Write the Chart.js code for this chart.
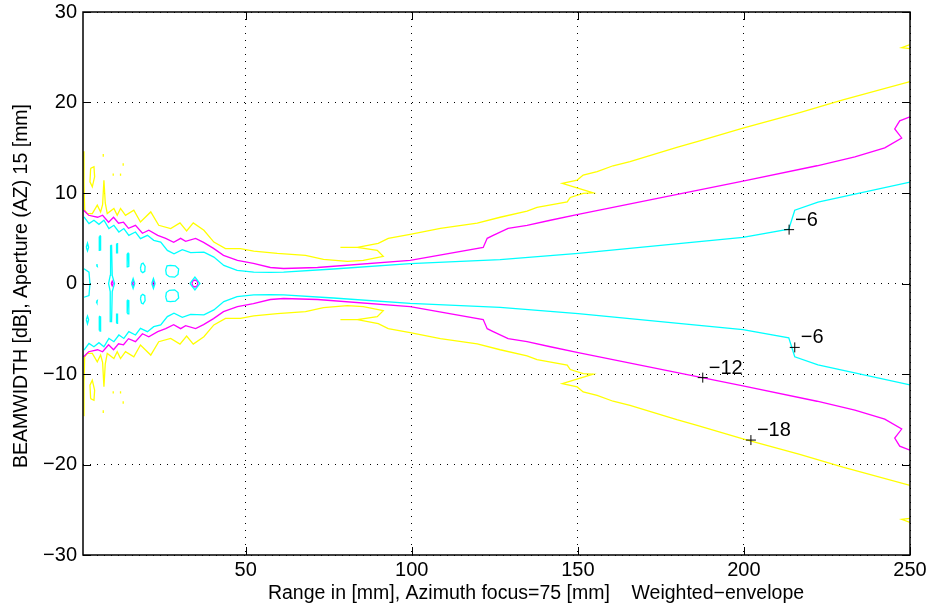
<!DOCTYPE html>
<html>
<head>
<meta charset="utf-8">
<script src="https://cdn.jsdelivr.net/npm/chart.js@4.4.1/dist/chart.umd.min.js"></script>
<style>
  html, body { margin: 0; padding: 0; background: #fff; }
</style>
</head>
<body>
<canvas id="beamChart" width="936" height="609"></canvas>
<script>
// tick values
const xTicks = [50, 100, 150, 200, 250]
const yTicks = [-30, -20, -10, 0, 10, 20, 30]
const xTitle = 'Range in [mm], Azimuth focus=75 [mm]    Weighted−envelope'
const yTitle = 'BEAMWIDTH [dB], Aperture (AZ) 15 [mm]'

// -6 dB contour (cyan)
const cyanX = [1.3, 2.8, 4.3, 5.8, 7.3, 8.8, 10.3, 11.8, 13.3, 14.8, 16.8, 18.3, 20.4, 22.3, 24.4, 26.4, 28.4, 30.9, 33.4, 37.4, 40.4, 43.4, 47.4, 52.4, 57.4, 61.4, 76.4, 99.5, 126.6, 150.1, 199.7, 213.5, 215.3, 222.3, 250]
const cyanUpperY = [7.35, 6.62, 6.99, 6.54, 6.99, 6.07, 6.43, 5.69, 6.07, 5.32, 5.69, 4.96, 5.32, 4.77, 4.58, 3.66, 3.29, 3.74, 3.41, 3.47, 2.92, 2.0, 1.44, 1.25, 1.22, 1.25, 1.6, 2.19, 2.63, 3.33, 5.1, 6.0, 8.1, 8.98, 11.2]
const cyanLowerY = [-7.35, -6.62, -6.99, -6.54, -6.99, -6.07, -6.43, -5.69, -6.07, -5.32, -5.69, -4.96, -5.32, -4.77, -4.58, -3.66, -3.29, -3.74, -3.41, -3.47, -2.92, -2.0, -1.44, -1.25, -1.22, -1.25, -1.6, -2.19, -2.63, -3.33, -5.1, -6.0, -8.1, -8.98, -11.2]

// -12 dB contour (magenta)
const magentaX = [1.2, 2.7, 5.4, 6.9, 8.7, 10.2, 11.7, 13.2, 14.7, 16.8, 18.9, 20.8, 23.5, 25.9, 28.3, 30.4, 31.9, 34.9, 37.3, 40.3, 43.3, 47.5, 52.3, 57.4, 61.4, 71.6, 99.5, 121.5, 122.7, 124.5, 129.0, 134.7, 141.7, 150.1, 199.7, 222.0, 233.4, 242.4, 247.5, 245.4, 246.9, 250]
const magentaUpperY = [8.1, 7.54, 7.32, 7.54, 6.77, 7.32, 6.66, 6.77, 6.1, 6.43, 5.55, 5.88, 5.32, 4.99, 4.55, 4.99, 4.66, 4.99, 4.55, 3.88, 3.11, 2.55, 2.22, 1.77, 1.66, 1.77, 2.55, 3.99, 4.99, 5.32, 6.1, 6.43, 6.99, 7.65, 11.31, 13.01, 13.98, 14.98, 16.08, 17.08, 17.97, 18.41]
const magentaLowerY = [-8.1, -7.54, -7.32, -7.54, -6.77, -7.32, -6.66, -6.77, -6.1, -6.43, -5.55, -5.88, -5.32, -4.99, -4.55, -4.99, -4.66, -4.99, -4.55, -3.88, -3.11, -2.55, -2.22, -1.77, -1.66, -1.77, -2.55, -3.99, -4.99, -5.32, -6.1, -6.43, -6.99, -7.65, -11.31, -13.01, -13.98, -14.98, -16.08, -17.08, -17.97, -18.41]

// -18 dB contour (yellow)
const yellowX = [1.2, 1.3, 1.5, 2.3, 3.8, 5.3, 6.3, 6.9, 7.3, 7.7, 8.3, 10.3, 11.3, 12.3, 13.8, 16.3, 18.3, 21.4, 23.8, 27.4, 30.2, 32.2, 34.2, 37.4, 40.4, 43.9, 48.4, 52.4, 59.5, 68.0, 73.4, 80.6, 85.4, 91.4, 89.6, 83.6, 78.5, 83.6, 89.9, 92.9, 99.5, 108.6, 119.7, 126.6, 134.7, 137.7, 146.8, 147.7, 151.6, 154.6, 145.3, 149.8, 151.6, 155.8, 160.6, 165.7, 179.8, 185.9, 199.7, 216.8, 229.8, 250]
const yellowUpperY = [14.6, 11.0, 8.1, 7.73, 7.73, 8.65, 7.91, 8.7, 11.4, 8.9, 7.73, 8.29, 7.54, 8.29, 7.54, 8.1, 6.8, 7.91, 6.43, 6.07, 6.69, 5.8, 6.69, 5.88, 4.58, 3.85, 3.85, 3.58, 3.33, 3.11, 2.66, 2.44, 2.55, 3.0, 3.66, 3.99, 3.99, 3.99, 4.44, 4.99, 5.44, 6.1, 6.66, 7.32, 7.99, 8.4, 9.02, 9.51, 9.95, 10.02, 11.06, 11.43, 11.98, 12.35, 13.01, 13.46, 15.05, 15.67, 17.16, 18.89, 20.3, 22.3]
const yellowLowerY = [-14.6, -11.0, -8.1, -7.73, -7.73, -8.65, -7.91, -8.7, -11.4, -8.9, -7.73, -8.29, -7.54, -8.29, -7.54, -8.1, -6.8, -7.91, -6.43, -6.07, -6.69, -5.8, -6.69, -5.88, -4.58, -3.85, -3.85, -3.58, -3.33, -3.11, -2.66, -2.44, -2.55, -3.0, -3.66, -3.99, -3.99, -3.99, -4.44, -4.99, -5.44, -6.1, -6.66, -7.32, -7.99, -8.4, -9.02, -9.51, -9.95, -10.02, -11.06, -11.43, -11.98, -12.35, -13.01, -13.46, -15.05, -15.67, -17.16, -18.89, -20.3, -22.3]

// small closed pieces of the -6 contour near the aperture
const cyanIslands = [
	[[1.3, 1.63], [2.8, 1.25], [3.1, 0], [2.8, -1.33], [1.3, -1.52]],
	[[2.0, 4.0], [2.35, 4.45], [2.7, 4.0], [2.35, 3.6], [2.0, 4.0]],
	[[2.0, -4.0], [2.35, -4.45], [2.7, -4.0], [2.35, -3.6], [2.0, -4.0]],
	[[5.0, 2.0], [5.2, 2.15], [5.3, 1.9], [5.0, 2.0]],
	[[5.0, -2.0], [5.2, -2.15], [5.3, -1.9], [5.0, -2.0]],
	[[5.9, 5.2], [6.2, 5.25], [6.3, 3.7], [6.0, 3.65], [5.9, 5.2]],
	[[5.9, -5.2], [6.2, -5.25], [6.3, -3.7], [6.0, -3.65], [5.9, -5.2]],
	[[9.3, 4.22], [9.6, 4.22], [9.8, 0.9], [10.5, 0], [9.8, -0.9], [9.6, -4.22], [9.3, -4.22], [9.2, -0.9], [8.7, 0], [9.2, 0.9], [9.3, 4.22]],
	[[11.1, 4.4], [11.4, 4.4], [11.4, 3.4], [11.1, 3.4], [11.1, 4.4]],
	[[11.1, -4.4], [11.4, -4.4], [11.4, -3.4], [11.1, -3.4], [11.1, -4.4]],
	[[14.3, 3.3], [14.6, 3.35], [14.8, 1.9], [14.5, 1.85], [14.3, 3.3]],
	[[14.3, -3.3], [14.6, -3.35], [14.8, -1.9], [14.5, -1.85], [14.3, -3.3]],
	[[15.6, 0], [16.1, 0.55], [16.6, 0], [16.1, -0.55], [15.6, 0]],
	[[18.3, 1.7], [18.6, 2.15], [19.1, 2.25], [19.7, 1.9], [19.6, 1.35], [19.0, 1.2], [18.5, 1.35], [18.3, 1.7]],
	[[18.3, -1.7], [18.6, -2.15], [19.1, -2.25], [19.7, -1.9], [19.6, -1.35], [19.0, -1.2], [18.5, -1.35], [18.3, -1.7]],
	[[21.7, 0], [22.2, 0.55], [22.7, 0], [22.2, -0.55], [21.7, 0]],
	[[25.9, 1.5], [26.3, 1.95], [27.3, 2.0], [28.8, 1.95], [29.8, 1.6], [29.6, 1.0], [28.6, 0.7], [27.0, 0.75], [26.1, 1.0], [25.9, 1.5]],
	[[25.9, -1.5], [26.3, -1.95], [27.3, -2.0], [28.8, -1.95], [29.8, -1.6], [29.6, -1.0], [28.6, -0.7], [27.0, -0.75], [26.1, -1.0], [25.9, -1.5]],
	[[33.2, 0], [34.7, 0.7], [36.2, 0], [34.7, -0.7], [33.2, 0]]
]

const magentaDots = [
	[[9.5, 0], [9.8, 0.25], [10.1, 0], [9.8, -0.25], [9.5, 0]],
	[[15.8, 0], [16.1, 0.25], [16.4, 0], [16.1, -0.25], [15.8, 0]],
	[[21.9, 0], [22.2, 0.25], [22.5, 0], [22.2, -0.25], [21.9, 0]],
	[[33.8, 0], [34.1, 0.3], [34.7, 0.38], [35.3, 0.3], [35.6, 0], [35.3, -0.3], [34.7, -0.38], [34.1, -0.3], [33.8, 0]]
]

const yellowBits = [
	[[3.3, 12.72], [4.3, 12.9], [4.5, 11.79], [3.8, 10.68], [3.1, 11.24], [3.3, 12.72]],
	[[3.3, -12.72], [4.3, -12.9], [4.5, -11.79], [3.8, -10.68], [3.1, -11.24], [3.3, -12.72]],
	[[7.1, 14.0], [7.1, 14.3]],
	[[13.1, 13.0], [13.1, 13.3]],
	[[10.1, 11.9], [10.1, 12.15]],
	[[12.3, 11.9], [12.3, 12.15]],
	[[7.1, -14.0], [7.1, -14.3]],
	[[13.1, -13.0], [13.1, -13.3]],
	[[10.1, -11.9], [10.1, -12.15]],
	[[12.3, -11.9], [12.3, -12.15]],
	[[250, 26.4], [247.5, 26.05], [250, 25.95]],
	[[250, -26.4], [247.5, -26.05], [250, -25.95]]
]

// contour labels
const labelX = [213.6, 215.3, 187.6, 202.1]
const labelY = [5.95, -7.06, -10.4, -17.3]
const labelText = ['−6', '−6', '−12', '−18']

const FONT = '"Liberation Sans", Arial, Helvetica, sans-serif'
Chart.defaults.font.family = FONT
Chart.defaults.color = '#000'

function xy(xs, ys) {
	return xs.map((x, i) => ({x: x, y: ys[i]}))
}
function pairs(arr) {
	return arr.map(p => ({x: p[0], y: p[1]}))
}
function contour(color, data) {
	return {data: data, borderColor: color, borderWidth: 1.3, showLine: true, pointRadius: 0, fill: false, tension: 0}
}

const datasets = [
	{
		data: xy(labelX, labelY),
		pointStyle: 'cross', pointRadius: 5, borderColor: '#000', borderWidth: 1,
		showLine: false
	},
	contour('#00ffff', xy(cyanX, cyanUpperY)),
	contour('#00ffff', xy(cyanX, cyanLowerY)),
	contour('#ff00ff', xy(magentaX, magentaUpperY)),
	contour('#ff00ff', xy(magentaX, magentaLowerY)),
	contour('#ffff00', xy(yellowX, yellowUpperY)),
	contour('#ffff00', xy(yellowX, yellowLowerY))
]
cyanIslands.forEach(p => datasets.push(contour('#00ffff', pairs(p))))
magentaDots.forEach(p => datasets.push(contour('#ff00ff', pairs(p))))
yellowBits.forEach(p => datasets.push(contour('#ffff00', pairs(p))))

function minusLabel(v) {
	return v < 0 ? '−' + Math.abs(v) : '' + v
}

// box, inward tick marks, contour labels and axis titles
const decorations = {
	id: 'decorations',
	afterDatasetsDraw(chart) {
		const {ctx, chartArea: a, scales: {x, y}} = chart
		ctx.save()
		ctx.strokeStyle = '#000'
		ctx.lineWidth = 1
		ctx.beginPath()
		xTicks.forEach(v => {
			const px = Math.round(x.getPixelForValue(v)) + 0.5
			ctx.moveTo(px, a.bottom); ctx.lineTo(px, a.bottom - 8)
			ctx.moveTo(px, a.top); ctx.lineTo(px, a.top + 8)
		})
		yTicks.forEach(v => {
			const py = Math.round(y.getPixelForValue(v)) + 0.5
			ctx.moveTo(a.left, py); ctx.lineTo(a.left + 8, py)
			ctx.moveTo(a.right, py); ctx.lineTo(a.right - 8, py)
		})
		ctx.stroke()
		ctx.lineWidth = 1.5
		ctx.strokeRect(a.left, a.top, a.right - a.left, a.bottom - a.top)
		ctx.fillStyle = '#000'
		ctx.font = '20px ' + FONT
		ctx.textAlign = 'left'
		ctx.textBaseline = 'alphabetic'
		labelText.forEach((t, i) => {
			ctx.fillText(t, x.getPixelForValue(labelX[i]) + 6, y.getPixelForValue(labelY[i]) - 4)
		})
		ctx.font = '19.5px ' + FONT
		ctx.textAlign = 'center'
		ctx.textBaseline = 'middle'
		ctx.fillText(xTitle, 536, 594)
		ctx.translate(22, 286)
		ctx.rotate(-Math.PI / 2)
		ctx.fillText(yTitle, 0, 0)
		ctx.restore()
	}
}

const chart = new Chart('beamChart', {
	type: 'scatter',
	data: {datasets: datasets},
	options: {
		responsive: false,
		animation: false,
		events: [],
		layout: {padding: {top: 12, right: 26, left: 0, bottom: 0}},
		plugins: {legend: {display: false}, tooltip: {enabled: false}},
		scales: {
			x: {
				type: 'linear', min: 1, max: 250,
				afterBuildTicks: s => { s.ticks = xTicks.map(v => ({value: v})) },
				afterFit: s => { s.height = 54; s.paddingLeft = 0; s.paddingRight = 0 },
				ticks: {font: {size: 20}, padding: 3, maxRotation: 0, callback: v => '' + v},
				grid: {color: '#000', lineWidth: 1, drawTicks: false},
				border: {display: false, dash: [1, 6]}
			},
			y: {
				type: 'linear', min: -30, max: 30,
				afterBuildTicks: s => { s.ticks = yTicks.map(v => ({value: v})) },
				afterFit: s => { s.width = 83; s.paddingTop = 0; s.paddingBottom = 0 },
				ticks: {font: {size: 20}, padding: 6, callback: minusLabel},
				grid: {color: '#000', lineWidth: 1, drawTicks: false},
				border: {display: false, dash: [1, 6]}
			}
		}
	},
	plugins: [decorations]
})
</script>
</body>
</html>
